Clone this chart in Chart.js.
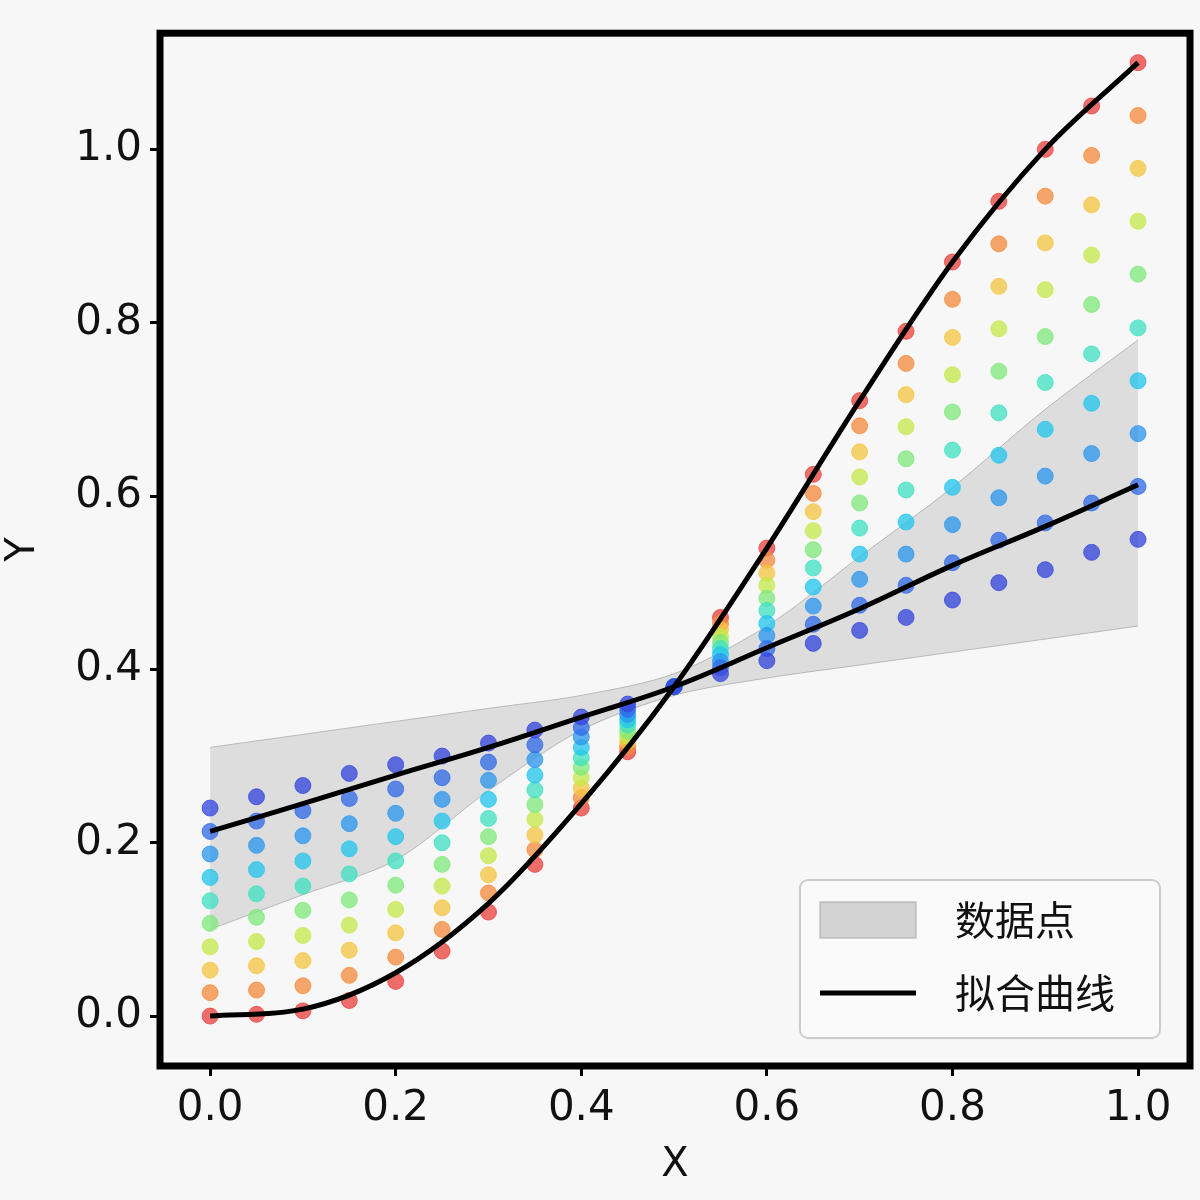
<!DOCTYPE html>
<html><head><meta charset="utf-8">
<script src="https://cdn.jsdelivr.net/npm/chart.js@4/dist/chart.umd.min.js"></script>
<style>html,body{margin:0;background:#f7f7f7}#c{display:block}</style></head>
<body><canvas id="c" width="1200" height="1200"></canvas>
<script>
const xs=[0,0.05,0.1,0.15,0.2,0.25,0.3,0.35,0.4,0.45,0.5,0.55,0.6,0.65,0.7,0.75,0.8,0.85,0.9,0.95,1.0];
const series=[
[.24,.253,.266,.28,.29,.30,.315,.33,.345,.36,.38,.395,.41,.43,.445,.46,.48,.50,.515,.535,.55],
[.213,.225,.237,.251,.262,.275,.293,.313,.333,.354,.38,.402,.424,.452,.474,.497,.523,.549,.569,.592,.611],
[.187,.197,.208,.222,.234,.25,.272,.296,.322,.348,.38,.409,.439,.473,.504,.533,.567,.598,.623,.649,.672],
[.16,.169,.179,.193,.207,.225,.25,.278,.31,.342,.38,.417,.453,.495,.533,.57,.61,.647,.677,.707,.733],
[.133,.141,.150,.164,.179,.2,.228,.261,.298,.336,.38,.424,.468,.517,.563,.607,.653,.696,.731,.764,.794],
[.107,.114,.122,.134,.151,.175,.207,.244,.287,.329,.38,.431,.482,.538,.592,.643,.697,.744,.784,.821,.856],
[.08,.086,.093,.105,.123,.15,.185,.227,.275,.323,.38,.438,.497,.56,.622,.68,.74,.793,.838,.878,.917],
[.053,.058,.064,.076,.096,.125,.163,.209,.263,.317,.38,.446,.511,.582,.651,.717,.783,.842,.892,.936,.978],
[.027,.030,.035,.047,.068,.10,.142,.192,.252,.311,.38,.453,.526,.603,.681,.753,.827,.891,.946,.993,1.039],
[0,.002,.006,.018,.04,.075,.12,.175,.24,.305,.38,.46,.54,.625,.71,.79,.87,.94,1.0,1.05,1.1]
];
const colors=['#3344dd','#2f6ae8','#2a96ee','#22c4ee','#3fe0c0','#7ee87a','#c4e84a','#f5c540','#f58a3a','#e8403a'];
const fitX=[0,0.1,0.2,0.3,0.4,0.5,0.6,0.7,0.8,0.9,1.0];
const fitLin=[.213,.245,.278,.31,.345,.38,.425,.47,.52,.565,.613];
const fitSig=[0,.008,.05,.13,.245,.38,.54,.71,.87,1.0,1.1];
const bandX=[0,0.1,0.2,0.3,0.4,0.5,0.6,0.7,0.8,0.9,1.0];
const bandTop=[.31,.325,.34,.355,.37,.395,.45,.53,.61,.70,.78];
const bandLow=[.10,.14,.18,.26,.33,.37,.39,.405,.42,.435,.45];
const tickVals=[0,0.2,0.4,0.6,0.8,1.0];

const ds=[];
ds.push({type:'line',data:bandX.map((x,i)=>({x,y:bandLow[i]})),borderColor:'rgba(150,150,150,0.6)',borderWidth:1,pointRadius:0,fill:false,tension:0.3,order:5});
ds.push({type:'line',data:bandX.map((x,i)=>({x,y:bandTop[i]})),borderColor:'rgba(150,150,150,0.6)',borderWidth:1,pointRadius:0,fill:'-1',backgroundColor:'rgba(200,200,200,0.55)',tension:0.3,order:5});
series.forEach((s,k)=>ds.push({type:'scatter',data:xs.map((x,i)=>({x,y:s[i]})),backgroundColor:colors[k]+'c0',borderColor:colors[k]+'c0',pointRadius:8,order:3}));
ds.push({type:'line',data:fitX.map((x,i)=>({x,y:fitLin[i]})),borderColor:'#000',borderWidth:5,pointRadius:0,tension:0.4,fill:false,order:1});
ds.push({type:'line',data:fitX.map((x,i)=>({x,y:fitSig[i]})),borderColor:'#000',borderWidth:5,pointRadius:0,cubicInterpolationMode:'monotone',fill:false,order:1});

const frame={id:'frame',afterDraw(c){const a=c.chartArea,g=c.ctx;g.save();g.lineWidth=7;g.strokeStyle='#000';g.strokeRect(a.left,a.top,a.right-a.left,a.bottom-a.top);
const lx=800,ly=880,w=360,h=158;g.fillStyle='rgba(250,250,250,0.9)';g.strokeStyle='#ccc';g.lineWidth=2;g.beginPath();g.roundRect(lx,ly,w,h,8);g.fill();g.stroke();
g.fillStyle='rgba(200,200,200,0.8)';g.strokeStyle='#aaa';g.lineWidth=1;g.fillRect(820,902,96,36);g.strokeRect(820,902,96,36);
g.strokeStyle='#000';g.lineWidth=5;g.beginPath();g.moveTo(820,993);g.lineTo(916,993);g.stroke();
g.fillStyle='#111';g.font='40px "Noto Sans CJK SC"';g.textBaseline='middle';g.fillText('数据点',955,920);g.fillText('拟合曲线',955,993);g.restore();}};

const tk={color:'#111',font:{size:42,family:'DejaVu Sans'},callback:v=>v.toFixed(1),padding:8};
const gr={display:true,drawOnChartArea:false,drawTicks:true,tickLength:10,tickWidth:3,tickColor:'#000',color:'#000'};
new Chart(document.getElementById('c'),{data:{datasets:ds},plugins:[frame],options:{responsive:false,animation:false,layout:{padding:{top:0,right:10}},
plugins:{legend:{display:false},tooltip:{enabled:false}},
scales:{x:{type:'linear',min:-0.054,max:1.056,grid:gr,border:{display:false},afterFit(s){s.height=134;},afterBuildTicks(s){s.ticks=tickVals.map(v=>({value:v}));},
 ticks:tk,title:{display:true,text:'X',color:'#111',font:{size:40,family:'DejaVu Sans'},padding:{top:0,bottom:10}}},
y:{type:'linear',min:-0.0576,max:1.134,grid:gr,border:{display:false},afterFit(s){s.width=160;},afterBuildTicks(s){s.ticks=tickVals.map(v=>({value:v}));},
 ticks:tk,title:{display:true,text:'Y',color:'#111',font:{size:40,family:'DejaVu Sans'},padding:{top:0,bottom:0}}}}}});
</script></body></html>
